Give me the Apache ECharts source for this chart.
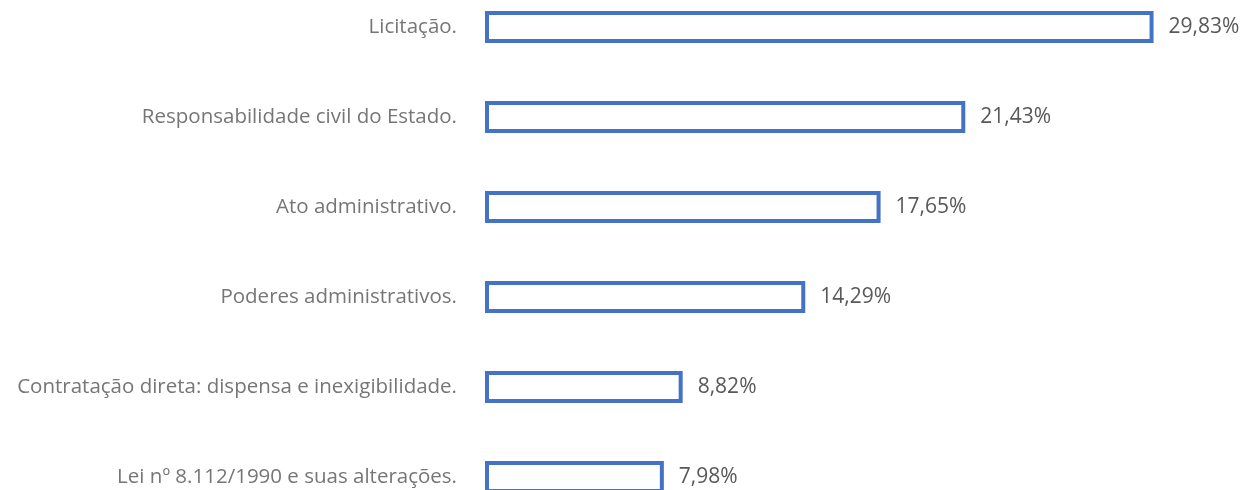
<!DOCTYPE html>
<html><head><meta charset="utf-8">
<script src="https://cdn.jsdelivr.net/npm/echarts@6/dist/echarts.min.js"></script>
<style>html,body{margin:0;padding:0;background:#fff;overflow:hidden;width:1247px;height:490px;}#c{position:absolute;left:0;top:-18px;width:1247px;height:540px;}</style>
</head><body><div id="c"></div>
<script>
const categories = [
  'Licitação.',
  'Responsabilidade civil do Estado.',
  'Ato administrativo.',
  'Poderes administrativos.',
  'Contratação direta: dispensa e inexigibilidade.',
  'Lei nº 8.112/1990 e suas alterações.'
];
const values = [29.83, 21.43, 17.65, 14.29, 8.82, 7.98];
const valueLabels = ['29,83%', '21,43%', '17,65%', '14,29%', '8,82%', '7,98%'];

const chart = echarts.init(document.getElementById('c'), null, {renderer: 'canvas'});
chart.setOption({
  animation: false,
  grid: {left: 485, top: 0, width: 764, bottom: 0, containLabel: false},
  xAxis: {type: 'value', min: 0, max: 34, show: false},
  yAxis: {
    type: 'category', data: categories, inverse: true,
    axisLine: {show: false}, axisTick: {show: false}, splitLine: {show: false},
    axisLabel: {margin: 28, color: '#767676', fontFamily: 'Open Sans', fontSize: 20.5}
  },
  series: [{
    type: 'bar', data: values, barWidth: 32,
    itemStyle: {color: '#ffffff', borderColor: '#4472C4', borderWidth: 4},
    label: {
      show: true, position: 'right', distance: 15,
      color: '#595959', fontFamily: 'Open Sans', fontSize: 21,
      formatter: p => valueLabels[p.dataIndex]
    }
  }]
});
</script></body></html>
